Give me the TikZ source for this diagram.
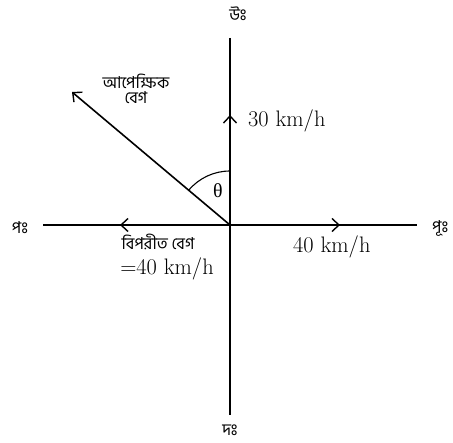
\documentclass[tikz,border=0pt]{standalone}
\usepackage{fontspec}
\newfontfamily\bn[Script=Bengali]{Hind Siliguri}
\newfontfamily\grk{Liberation Serif}
\usetikzlibrary{arrows.meta}
\begin{document}
\begin{tikzpicture}[x=1bp,y=-1bp,
  axis/.style={line width=1.4bp,black},
  vec/.style={line width=1.6bp,black},
  barb/.style={-{Straight Barb[length=7bp,width=13bp,line width=1.4bp]}},
  lat/.style={inner sep=0pt,font=\fontsize{22.5}{24}\selectfont},
  bng/.style={inner sep=0pt,font=\bn\fontsize{16.5}{18}\selectfont,align=center}]
\useasboundingbox (0,0) rectangle (453,443);
\coordinate (O) at (230,225);
\coordinate (N) at (230,38);
\coordinate (S) at (230,415);
\coordinate (W) at (43,225);
\coordinate (E) at (417,225);
\coordinate (Ntip) at (230,115);
\coordinate (Wtip) at (120,225);
\coordinate (Etip) at (340,225);
\coordinate (R) at (72,92);
\draw[axis] (N) -- (S);
\draw[axis] (W) -- (E);
\draw[axis,barb] (O) -- (Ntip);
\draw[axis,barb] (O) -- (Wtip);
\draw[axis,barb] (O) -- (Etip);
\draw[vec,barb] (O) -- (R);
\draw[line width=1.1bp] (230,171) arc[start angle=-90,end angle=-140,radius=54];
\node[inner sep=0pt,font=\grk\fontsize{20}{22}\selectfont] (th) at (218,191) {θ};
\node[bng] (nl) at (238,14) {উঃ};
\node[bng] (sl) at (230,430) {দঃ};
\node[bng] (wl) at (20,228) {পঃ};
\node[bng,anchor=west] (el) at (432,228) {পূঃ};
\node[bng] (rl) at (136,89) {আপেক্ষিক\\[-3pt]বেগ};
\node[lat,anchor=west] (v30) at (248,121) {30 km/h};
\node[lat,anchor=west] (v40) at (293,247) {40 km/h};
\node[bng] (op) at (158,242) {বিপরীত বেগ};
\node[lat] (op2) at (167,269) {=40 km/h};
\end{tikzpicture}
\end{document}
